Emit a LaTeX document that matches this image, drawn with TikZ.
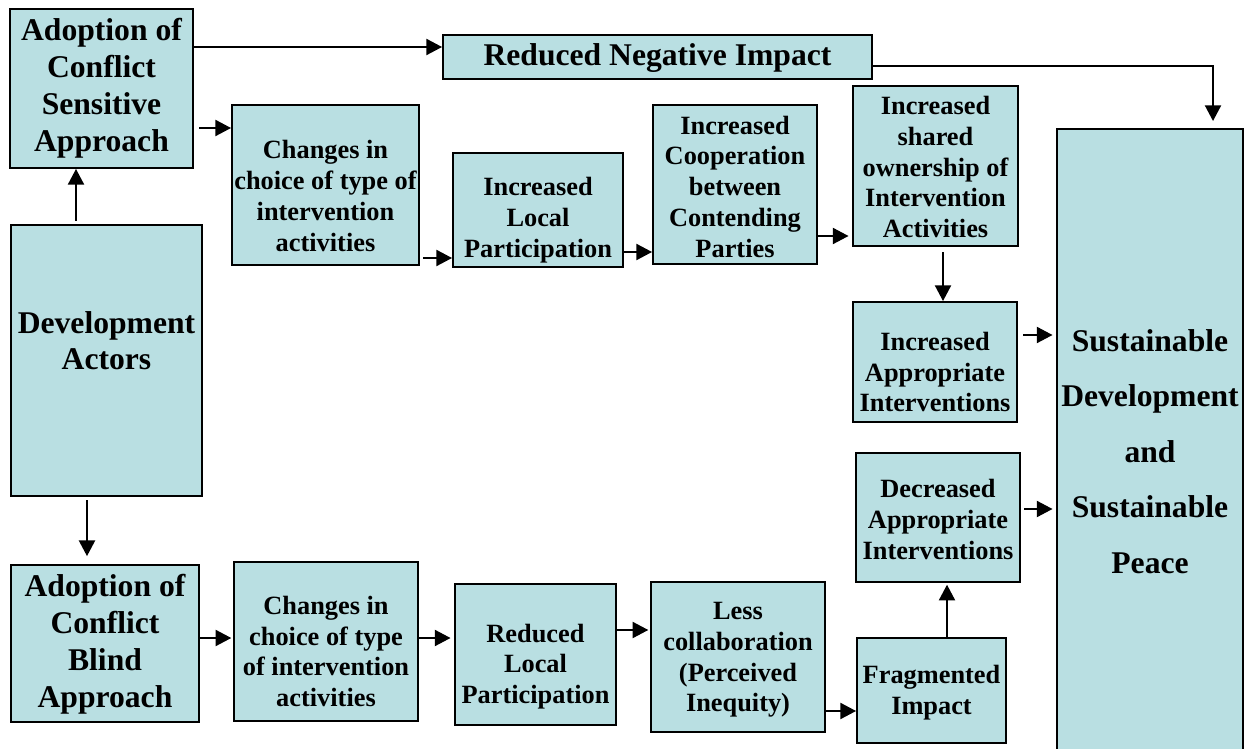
\documentclass[tikz,border=0pt]{standalone}
\usepackage{fontspec}
\setmainfont{Liberation Serif}
\usetikzlibrary{arrows.meta}
\definecolor{boxfill}{RGB}{185,223,226}
\tikzset{
  boxst/.style={draw=black, line width=1pt, fill=boxfill, inner sep=0pt, rectangle},
  bigtxt/.style={font=\bfseries\fontsize{18}{21}\selectfont, inner sep=0pt},
  devtxt/.style={font=\bfseries\fontsize{18}{20.5}\selectfont, inner sep=0pt},
  sustxt/.style={font=\bfseries\fontsize{18}{31.5}\selectfont, inner sep=0pt},
  smalltxt/.style={font=\bfseries\fontsize{15}{17.5}\selectfont, inner sep=0pt},
  arr/.style={line width=1.6pt, -{Triangle[length=9pt,width=9pt]}}
}
\newcommand\mybox[8]{%
  \node[boxst, minimum width={(#4-#2)*0.02cm}, minimum height={(#5-#3)*0.02cm}] (#1) at ({(#2+#4)/2},{(#3+#5)/2}) {};
  \node[#6, align=center] (#1t) at ([yshift={-(#7)*0.02cm}]#1.center) {#8};
}
\begin{document}
\begin{tikzpicture}[x=0.02cm, y=-0.02cm]
\useasboundingbox (0,0) rectangle (1250,749);
\clip (0,0) rectangle (1250,749);
\fill[white] (0,0) rectangle (1250,749);
% boxes
\mybox{b1}{10}{9}{193}{168}{bigtxt}{0}{Adoption of\\Conflict\\Sensitive\\Approach}
\mybox{b2}{443}{35}{872}{79}{bigtxt}{1}{Reduced Negative Impact}
\mybox{b3}{232}{105}{419}{265}{smalltxt}{11}{Changes in\\choice of type of\\intervention\\activities}
\mybox{b4}{453}{153}{623}{267}{smalltxt}{10}{Increased\\Local\\Participation}
\mybox{b5}{653}{105}{817}{264}{smalltxt}{2}{Increased\\Cooperation\\between\\Contending\\Parties}
\mybox{b6}{853}{86}{1018}{246}{smalltxt}{1}{Increased\\shared\\ownership of\\Intervention\\Activities}
\mybox{b7}{853}{302}{1017}{422}{smalltxt}{10}{Increased\\Appropriate\\Interventions}
\mybox{b8}{1057}{129}{1243}{772}{sustxt}{1}{Sustainable\\Development\\and\\Sustainable\\Peace}
\mybox{b9}{11}{225}{202}{496}{devtxt}{-20}{Development\\Actors}
\mybox{b10}{856}{453}{1020}{582}{smalltxt}{2}{Decreased\\Appropriate\\Interventions}
\mybox{b11}{11}{565}{199}{722}{bigtxt}{1}{Adoption of\\Conflict\\Blind\\Approach}
\mybox{b12}{234}{562}{418}{721}{smalltxt}{10}{Changes in\\choice of type\\of intervention\\activities}
\mybox{b13}{455}{584}{616}{725}{smalltxt}{12}{Reduced\\Local\\Participation}
\mybox{b14}{651}{582}{825}{732}{smalltxt}{3}{Less\\collaboration\\(Perceived\\Inequity)}
\mybox{b15}{857}{638}{1006}{743}{smalltxt}{2}{Fragmented\\Impact}
% connectors
\draw[arr] (b1.east |- 0,47) -- (b2.west |- 0,47);
\draw[arr, shorten >=4pt] (b2.east |- 0,66) -| (b8.north -| 1213,0);
\draw[arr, shorten <=3pt] (b1.east |- 0,128) -- (b3.west |- 0,128);
\draw[arr, shorten <=2pt] (b9.north -| 76,0) -- (b1.south -| 76,0);
\draw[arr, shorten <=2pt] (b3.east |- 0,258) -- (b4.west |- 0,258);
\draw[arr] (b4.east |- 0,252) -- (b5.west |- 0,252);
\draw[arr, shorten >=2pt] (b5.east |- 0,236) -- (b6.west |- 0,236);
\draw[arr, shorten <=3pt] (b6.south -| 943,0) -- (b7.north -| 943,0);
\draw[arr, shorten <=3pt, shorten >=2pt] (b7.east |- 0,335) -- (b8.west |- 0,335);
\draw[arr, shorten <=2pt, shorten >=2pt] (b10.east |- 0,509) -- (b8.west |- 0,509);
\draw[arr, shorten <=2pt, shorten >=4.5pt] (b9.south -| 87,0) -- (b11.north -| 87,0);
\draw[arr, shorten >=1pt] (b11.east |- 0,638) -- (b12.west |- 0,638);
\draw[arr, shorten >=2pt] (b12.east |- 0,638) -- (b13.west |- 0,638);
\draw[arr, shorten >=1pt] (b13.east |- 0,630) -- (b14.west |- 0,630);
\draw[arr] (b14.east |- 0,711) -- (b15.west |- 0,711);
\draw[arr, shorten >=1pt] (b15.north -| 947,0) -- (b10.south -| 947,0);
\end{tikzpicture}
\end{document}
